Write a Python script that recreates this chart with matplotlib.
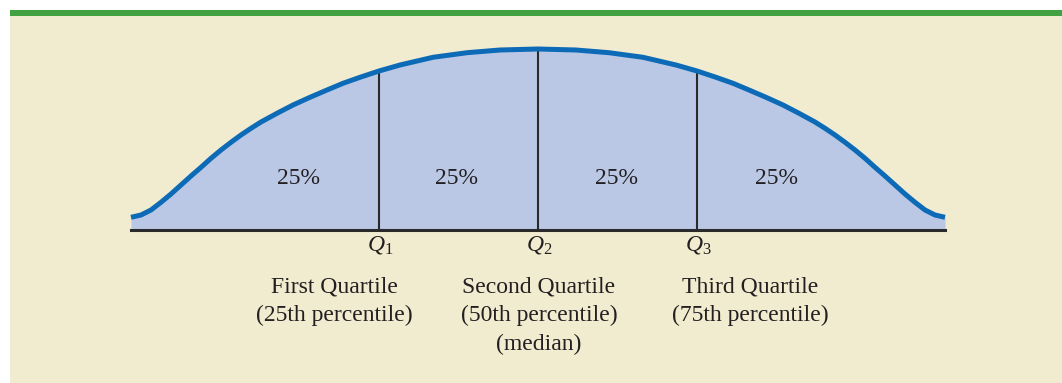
import numpy as np
import matplotlib.pyplot as plt
from matplotlib.patches import Rectangle

# curve: position from the centre and height above the baseline
pos = [-407, -397, -387, -377, -367, -357, -347, -337, -327, -317,
       -307, -297, -287, -277, -261, -245, -228, -211, -195, -178,
       -159, -138, -105, -71, -38,
       0,
       38, 71, 105, 138, 159,
       178, 195, 211, 228, 245, 261, 277, 287, 297, 307,
       317, 327, 337, 347, 357, 367, 377, 387, 397, 407]
height = [12.7, 15, 20, 27.7, 36, 45, 54, 62.7, 71.7, 80,
          87.7, 95, 101.7, 108, 116.7, 125, 132.7, 140, 146.7, 152.7,
          159, 165, 172.7, 177.3, 180,
          181,
          180, 177.3, 172.7, 165, 159,
          152.7, 146.7, 140, 132.7, 125, 116.7, 108, 101.7, 95, 87.7,
          80, 71.7, 62.7, 54, 45, 36, 27.7, 20, 15, 12.7]

quartiles = [-159, 0, 159]
q_labels = ['$Q_1$', '$Q_2$', '$Q_3$']
pct_pos = [-240, -81, 79, 238]
pct_text = '25%'
names = [(-204, ['First Quartile', '(25th percentile)']),
         (1, ['Second Quartile', '(50th percentile)', '(median)']),
         (212, ['Third Quartile', '(75th percentile)'])]

plt.rcParams['font.family'] = ['Liberation Serif', 'DejaVu Serif']
plt.rcParams['mathtext.fontset'] = 'custom'
plt.rcParams['mathtext.rm'] = 'Liberation Serif'
plt.rcParams['mathtext.it'] = 'Liberation Serif:italic'

fig = plt.figure(figsize=(10.62, 3.83), dpi=100, facecolor='white')
fig.patches.append(Rectangle((10 / 1062, 0), 1052 / 1062, 367 / 383,
                             transform=fig.transFigure, facecolor='#F1EBD0',
                             edgecolor='none', zorder=-2))
fig.patches.append(Rectangle((10 / 1062, 367 / 383), 1052 / 1062, 6 / 383,
                             transform=fig.transFigure, facecolor='#42A140',
                             edgecolor='none', zorder=-2))

ax = fig.add_axes([0, 0, 1, 1])
ax.set_facecolor('none')
ax.axis('off')
ax.set_xlim(-538, 524)
ax.set_ylim(-153, 230)

ax.fill_between(pos, 0, height, color='#BAC8E6', lw=0, zorder=1)
for q in quartiles:
    ax.plot([q, q], [0, np.interp(q, pos, height)], color='#2A2A2A', lw=1.5, zorder=2)
ax.plot([pos[0], pos[-1]], [0, 0], color='#2A2A2A', lw=2.2, zorder=3)
ax.plot(pos, height, color='#0C6AB7', lw=3.6, solid_capstyle='butt',
        solid_joinstyle='round', zorder=4)

for p in pct_pos:
    ax.text(p, 52, pct_text, ha='center', va='center', fontsize=17, color='#231F20')

for q, lab in zip(quartiles, q_labels):
    ax.text(q + 1, -15, lab, ha='center', va='center', fontsize=17, color='#231F20')

for xc, lines in names:
    for i, line in enumerate(lines):
        ax.text(xc, -57 - 28.5 * i, line, ha='center', va='center',
                fontsize=17, color='#231F20')

fig.savefig('out.png', dpi=100, facecolor='white')
